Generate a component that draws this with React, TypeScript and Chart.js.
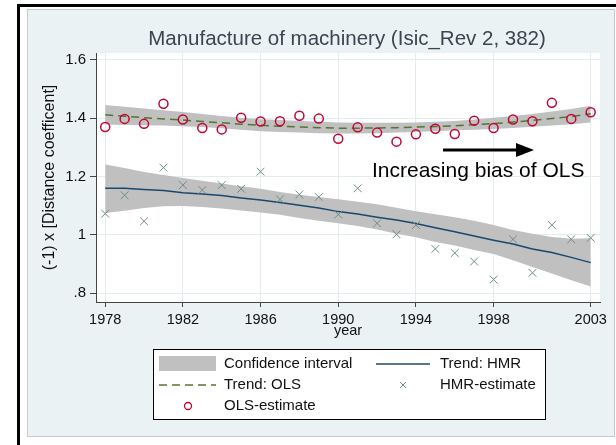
import React, { useEffect, useRef } from 'react';
import { Chart, registerables } from 'chart.js';

Chart.register(...registerables);

const years = [1978, 1979, 1980, 1981, 1982, 1983, 1984, 1985, 1986, 1987, 1988, 1989, 1990, 1991, 1992, 1993, 1994, 1995, 1996, 1997, 1998, 1999, 2000, 2001, 2002, 2003];

const olsEstimate = [1.370, 1.398, 1.381, 1.450, 1.396, 1.367, 1.362, 1.402, 1.389, 1.390, 1.409, 1.399, 1.330, 1.369, 1.351, 1.320, 1.345, 1.364, 1.346, 1.392, 1.367, 1.396, 1.390, 1.453, 1.398, 1.421];
const hmrEstimate = [1.073, 1.136, 1.047, 1.231, 1.171, 1.154, 1.171, 1.158, 1.217, 1.122, 1.139, 1.130, 1.070, 1.160, 1.040, 1.002, 1.034, 0.952, 0.938, 0.909, 0.847, 0.985, 0.870, 1.034, 0.985, 0.990];

const olsTrend = [1.412, 1.407, 1.402, 1.398, 1.394, 1.389, 1.385, 1.380, 1.376, 1.373, 1.370, 1.368, 1.366, 1.366, 1.367, 1.368, 1.370, 1.372, 1.374, 1.378, 1.382, 1.387, 1.393, 1.399, 1.406, 1.416];
const olsUpper = [1.446, 1.440, 1.434, 1.428, 1.422, 1.415, 1.408, 1.402, 1.397, 1.394, 1.391, 1.388, 1.386, 1.385, 1.385, 1.385, 1.386, 1.388, 1.391, 1.396, 1.402, 1.408, 1.415, 1.423, 1.432, 1.443];
const olsLower = [1.379, 1.377, 1.376, 1.375, 1.373, 1.370, 1.366, 1.361, 1.356, 1.353, 1.351, 1.349, 1.348, 1.348, 1.349, 1.351, 1.353, 1.356, 1.359, 1.361, 1.363, 1.367, 1.371, 1.375, 1.380, 1.386];

const hmrTrend = [1.160, 1.160, 1.156, 1.152, 1.145, 1.140, 1.135, 1.127, 1.120, 1.111, 1.102, 1.092, 1.080, 1.072, 1.061, 1.051, 1.039, 1.025, 1.011, 0.996, 0.982, 0.969, 0.952, 0.940, 0.923, 0.905];
const hmrUpper = [1.242, 1.230, 1.216, 1.206, 1.195, 1.186, 1.176, 1.167, 1.158, 1.147, 1.138, 1.130, 1.122, 1.114, 1.105, 1.093, 1.081, 1.071, 1.061, 1.049, 1.034, 1.017, 1.004, 0.993, 0.987, 0.989];
const hmrLower = [1.075, 1.083, 1.092, 1.098, 1.099, 1.096, 1.091, 1.084, 1.077, 1.069, 1.058, 1.049, 1.040, 1.031, 1.019, 1.004, 0.992, 0.976, 0.964, 0.948, 0.935, 0.913, 0.890, 0.868, 0.845, 0.823];

const xTicks = [1978, 1982, 1986, 1990, 1994, 1998, 2003];
const yTicks = [0.8, 1.0, 1.2, 1.4, 1.6];
const yTickLabels = ['.8', '1', '1.2', '1.4', '1.6'];

const titleText = 'Manufacture of machinery (Isic_Rev 2, 382)';
const yTitle = '(-1) x [Distance coefficent]';
const xTitle = 'year';
const noteText = 'Increasing bias of OLS';

const FONT = '"Liberation Sans", Arial, sans-serif';
const C_BAND = '#c0c0c0';
const C_HMR = '#1a476f';
const C_OLS = '#55752f';
const C_OLS_PT = '#c10534';
const C_HMR_PT = '#6e8e84';

const pts = (vals: number[]) => years.map((y, i) => ({ x: y, y: vals[i] }));

const decor = {
  id: 'decor',
  beforeDraw(chart: any) {
    const { ctx, chartArea: a } = chart;
    ctx.save();
    ctx.fillStyle = '#ffffff';
    ctx.fillRect(0, 0, chart.width, chart.height);
    ctx.fillStyle = '#000000';
    ctx.fillRect(17, 4, chart.width - 17, 3);
    ctx.fillRect(17, 4, 3, chart.height - 4);
    ctx.fillStyle = '#eaf2f3';
    ctx.fillRect(27, 9, 588, 428);
    ctx.strokeStyle = '#c6cacc';
    ctx.lineWidth = 1;
    ctx.strokeRect(27.5, 9.5, 587, 427);
    ctx.fillStyle = '#ffffff';
    ctx.fillRect(a.left, a.top, a.right - a.left, a.bottom - a.top);
    ctx.restore();
  },
  afterDraw(chart: any) {
    const { ctx, chartArea: a } = chart;
    ctx.save();
    // title
    ctx.fillStyle = '#3a4550';
    ctx.font = `20.5px ${FONT}`;
    ctx.textAlign = 'center';
    ctx.textBaseline = 'middle';
    ctx.fillText(titleText, 347, 39);
    // y title
    ctx.fillStyle = '#111';
    ctx.font = `16px ${FONT}`;
    ctx.save();
    ctx.translate(50, (a.top + a.bottom) / 2);
    ctx.rotate(-Math.PI / 2);
    ctx.fillText(yTitle, 0, 0);
    ctx.restore();
    // x title
    ctx.font = `14.5px ${FONT}`;
    ctx.fillText(xTitle, (a.left + a.right) / 2, 331);
    // annotation arrow
    ctx.strokeStyle = '#000';
    ctx.fillStyle = '#000';
    ctx.lineWidth = 3;
    ctx.beginPath();
    ctx.moveTo(443, 150);
    ctx.lineTo(520, 150);
    ctx.stroke();
    ctx.beginPath();
    ctx.moveTo(534, 150);
    ctx.lineTo(516, 143);
    ctx.lineTo(516, 157);
    ctx.closePath();
    ctx.fill();
    ctx.font = `21px ${FONT}`;
    ctx.textAlign = 'left';
    ctx.textBaseline = 'alphabetic';
    ctx.fillText(noteText, 372, 177);
    // legend
    ctx.fillStyle = '#fff';
    ctx.fillRect(153, 349, 392, 70);
    ctx.strokeStyle = '#000';
    ctx.lineWidth = 1;
    ctx.strokeRect(153.5, 349.5, 392, 70);
    const r1 = 364, r2 = 385, r3 = 406;
    ctx.fillStyle = C_BAND;
    ctx.fillRect(159, 356, 57, 15);
    ctx.strokeStyle = C_OLS;
    ctx.lineWidth = 1.5;
    ctx.setLineDash([8, 5]);
    ctx.beginPath();
    ctx.moveTo(159, r2);
    ctx.lineTo(216, r2);
    ctx.stroke();
    ctx.setLineDash([]);
    ctx.strokeStyle = C_OLS_PT;
    ctx.lineWidth = 1.3;
    ctx.beginPath();
    ctx.arc(188, r3, 3.5, 0, Math.PI * 2);
    ctx.stroke();
    ctx.strokeStyle = C_HMR;
    ctx.lineWidth = 1.5;
    ctx.beginPath();
    ctx.moveTo(376, r1);
    ctx.lineTo(430, r1);
    ctx.stroke();
    ctx.strokeStyle = C_HMR_PT;
    ctx.lineWidth = 1;
    ctx.beginPath();
    ctx.moveTo(400, r2 - 3);
    ctx.lineTo(406, r2 + 3);
    ctx.moveTo(406, r2 - 3);
    ctx.lineTo(400, r2 + 3);
    ctx.stroke();
    ctx.fillStyle = '#111';
    ctx.font = `15px ${FONT}`;
    ctx.textBaseline = 'middle';
    ctx.textAlign = 'left';
    ctx.fillText('Confidence interval', 224, r1);
    ctx.fillText('Trend: OLS', 224, r2);
    ctx.fillText('OLS-estimate', 224, r3);
    ctx.fillText('Trend: HMR', 440, r1);
    ctx.fillText('HMR-estimate', 440, r2);
    ctx.restore();
  },
};

export default function App() {
  const ref = useRef<HTMLCanvasElement>(null);
  useEffect(() => {
    if (!ref.current) return;
    const chart = new Chart(ref.current, {
      type: 'line',
      data: {
        datasets: [
          {
            label: 'OLS-estimate',
            data: pts(olsEstimate),
            showLine: false,
            pointStyle: 'circle',
            pointRadius: 4.5,
            pointBorderWidth: 1.5,
            pointBorderColor: C_OLS_PT,
            pointBackgroundColor: 'rgba(0,0,0,0)',
            order: 0,
          },
          {
            label: 'HMR-estimate',
            data: pts(hmrEstimate),
            showLine: false,
            pointStyle: 'crossRot',
            pointRadius: 5.5,
            pointBorderWidth: 1,
            pointBorderColor: C_HMR_PT,
            order: 1,
          },
          {
            label: 'Trend: OLS',
            data: pts(olsTrend),
            borderColor: C_OLS,
            borderWidth: 1.5,
            borderDash: [8, 5],
            pointRadius: 0,
            fill: false,
            order: 2,
          },
          {
            label: 'Trend: HMR',
            data: pts(hmrTrend),
            borderColor: C_HMR,
            borderWidth: 1.5,
            pointRadius: 0,
            fill: false,
            order: 3,
          },
          {
            label: 'HMR lower',
            data: pts(hmrLower),
            borderWidth: 0,
            borderColor: 'rgba(0,0,0,0)',
            pointRadius: 0,
            fill: false,
            order: 5,
          },
          {
            label: 'HMR CI',
            data: pts(hmrUpper),
            borderWidth: 0,
            borderColor: 'rgba(0,0,0,0)',
            backgroundColor: C_BAND,
            pointRadius: 0,
            fill: '-1',
            order: 4,
          },
          {
            label: 'OLS lower',
            data: pts(olsLower),
            borderWidth: 0,
            borderColor: 'rgba(0,0,0,0)',
            pointRadius: 0,
            fill: false,
            order: 7,
          },
          {
            label: 'OLS CI',
            data: pts(olsUpper),
            borderWidth: 0,
            borderColor: 'rgba(0,0,0,0)',
            backgroundColor: C_BAND,
            pointRadius: 0,
            fill: '-1',
            order: 6,
          },
        ],
      },
      options: {
        responsive: false,
        devicePixelRatio: 1,
        animation: false,
        layout: { padding: { left: 0, top: 53, right: 16, bottom: 0 } },
        plugins: {
          legend: { display: false },
          title: { display: false },
          tooltip: { enabled: false },
        },
        scales: {
          x: {
            type: 'linear',
            position: 'bottom',
            min: 1977.526,
            max: 2003.479,
            afterBuildTicks: (s: any) => {
              s.ticks = xTicks.map((v) => ({ value: v }));
            },
            afterFit: (s: any) => {
              s.height = 143;
            },
            ticks: {
              autoSkip: false,
              maxRotation: 0,
              padding: 4,
              color: '#111',
              font: { family: FONT, size: 14.5 },
              callback: (v: any) => String(v),
            },
            grid: {
              color: '#e3ecee',
              lineWidth: 1,
              drawTicks: true,
              tickLength: 5,
              tickColor: '#444',
              tickWidth: 1,
            },
            border: { display: true, color: '#444', width: 1 },
          },
          y: {
            type: 'linear',
            position: 'left',
            min: 0.770,
            max: 1.624,
            afterBuildTicks: (s: any) => {
              s.ticks = yTicks.map((v) => ({ value: v }));
            },
            afterFit: (s: any) => {
              s.width = 96;
            },
            ticks: {
              autoSkip: false,
              padding: 4,
              color: '#111',
              font: { family: FONT, size: 15 },
              callback: (v: any) => {
                const i = yTicks.findIndex((t) => Math.abs(t - v) < 1e-6);
                return i >= 0 ? yTickLabels[i] : '';
              },
            },
            grid: {
              color: '#e3ecee',
              lineWidth: 1,
              drawTicks: true,
              tickLength: 6,
              tickColor: '#444',
              tickWidth: 1,
            },
            border: { display: true, color: '#444', width: 1 },
          },
        },
      },
      plugins: [decor],
    } as any);
    return () => chart.destroy();
  }, []);
  return (
    <div style={{ position: 'absolute', left: 0, top: 0, width: 616, height: 445 }}>
      <canvas ref={ref} width={616} height={445} style={{ display: 'block', width: 616, height: 445 }} />
    </div>
  );
}
